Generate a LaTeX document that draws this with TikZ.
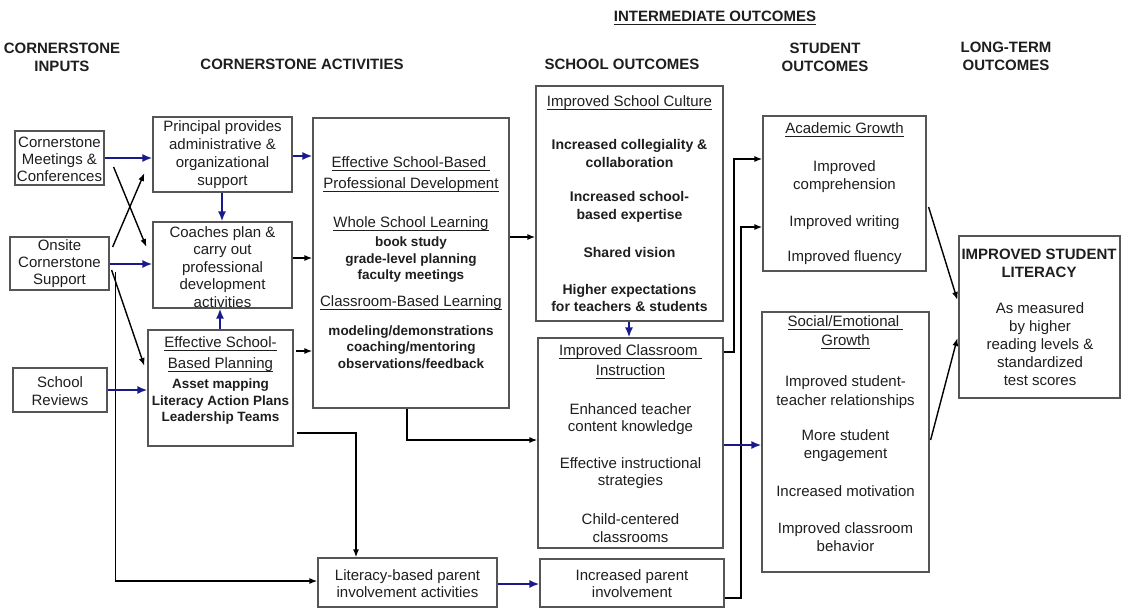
\documentclass[tikz,border=0pt]{standalone}
\usepackage{fontspec}
\setmainfont{Liberation Sans}
\usetikzlibrary{arrows.meta,calc}
\definecolor{bord}{RGB}{85,85,85}
\definecolor{navy}{RGB}{25,25,140}
\definecolor{ink}{RGB}{30,30,30}
\newsavebox{\myulbox}
\newcommand\ulx[1]{\sbox\myulbox{#1}\leavevmode\rlap{\rule[-3.2pt]{\wd\myulbox}{1pt}}\usebox\myulbox}
\tikzset{
  box/.style={draw=bord, line width=1.2pt, inner sep=0pt, fill=white},
  txt/.style={font=\fontsize{15}{#1}\selectfont, align=center, inner sep=0pt, text=ink},
  txt/.default=17,
  lst/.style={font=\bfseries\fontsize{13.5}{#1}\selectfont, align=center, inner sep=0pt, text=ink},
  lst/.default=16.5,
  bld/.style={font=\bfseries\fontsize{14}{#1}\selectfont, align=center, inner sep=0pt, text=ink},
  bld/.default=18,
  hdr/.style={font=\bfseries\fontsize{15}{#1}\selectfont, align=center, inner sep=0pt, text=ink},
  hdr/.default=18,
  blk/.style={draw=black, line width=1.4pt, -{Latex[length=8pt,width=6pt]}},
  blu/.style={draw=navy, line width=1.8pt, -{Latex[length=10pt,width=8pt]}},
}
\newcommand\bx[5]{\node[box, minimum width={#4-#2}, minimum height={#5-#3}] (#1) at ({(#2+#4)/2},{(#3+#5)/2}) {};}
\begin{document}
\begin{tikzpicture}[x=1pt,y=-1pt]
\useasboundingbox (0,0) rectangle (1121,610);
\fill[white] (0,0) rectangle (1121,610);
% headers
\node[hdr] (hIn) at (62,57) {CORNERSTONE\\INPUTS};
\node[hdr] (hAct) at (302,64) {CORNERSTONE ACTIVITIES};
\node[hdr] (hSch) at (622,64) {SCHOOL OUTCOMES};
\node[hdr] (hInt) at (715,18) {\ulx{INTERMEDIATE OUTCOMES}};
\node[hdr] (hStu) at (825,57) {STUDENT\\OUTCOMES};
\node[hdr] (hLong) at (1006,56) {LONG-TERM\\OUTCOMES};
% boxes
\bx{meet}{15}{131}{104}{185}
\bx{onsite}{10}{237}{109}{290}
\bx{rev}{13}{368}{107}{412}
\bx{prin}{153}{117}{292}{192}
\bx{coach}{153}{222}{292}{308}
\bx{plan}{148}{330}{293}{446}
\bx{pd}{313}{118}{509}{408}
\bx{lit}{318}{558}{497}{607}
\bx{sc}{536}{86}{723}{321}
\bx{ci}{538}{338}{723}{548}
\bx{pi}{540}{559}{724}{607}
\bx{ag}{763}{116}{926}{271}
\bx{se}{762}{312}{929}{572}
\bx{isl}{959}{236}{1120}{398}
% texts
\node[txt] (tMeet) at (59.5,159) {Cornerstone\\Meetings \&\\Conferences};
\node[txt] (tOn) at (59.5,264) {Onsite\\Cornerstone\\Support};
\node[txt=18] (tRev) at (60,391) {School\\Reviews};
\node[txt=18] (tPrin) at (222.5,155) {Principal provides\\administrative \&\\organizational\\support};
\node[txt=17.5] (tCoach) at (222.5,267) {Coaches plan \&\\carry out\\professional\\development\\activities};
\node[txt=21] (tPlanH) at (220.5,354.5) {\ulx{Effective School-}\\\ulx{Based Planning}};
\node[lst] (tPlanL) at (220.5,402) {Asset mapping\\Literacy Action Plans\\Leadership Teams};
\node[txt=21] (tPD1) at (411,174.5) {\ulx{Effective School-Based\ }\\\ulx{Professional Development}};
\node[txt] (tPD2) at (411,224) {\ulx{Whole School Learning}};
\node[lst] (tPD3) at (411,260) {book study\\grade-level planning\\faculty meetings};
\node[txt] (tPD4) at (411,303) {\ulx{Classroom-Based Learning}};
\node[lst] (tPD5) at (411,347) {modeling/demonstrations\\coaching/mentoring\\observations/feedback};
\node[txt] (tSC0) at (629.5,103) {\ulx{Improved School Culture}};
\node[bld] (tSC1) at (629.5,153) {Increased collegiality \&\\collaboration};
\node[bld=18.5] (tSC2) at (629.5,207) {Increased school-\\based expertise};
\node[bld] (tSC3) at (629.5,252) {Shared vision};
\node[bld=17] (tSC4) at (629.5,297.5) {Higher expectations\\for teachers \& students};
\node[txt=20] (tCI0) at (630.5,362) {\ulx{Improved Classroom\ }\\\ulx{Instruction}};
\node[txt] (tCI1) at (630.5,419.5) {Enhanced teacher\\content knowledge};
\node[txt] (tCI2) at (630.5,473.5) {Effective instructional\\strategies};
\node[txt=18] (tCI3) at (630.5,528) {Child-centered\\classrooms};
\node[txt] (tLit) at (407.5,583.5) {Literacy-based parent\\involvement activities};
\node[txt] (tPI) at (632,583.5) {Increased parent\\involvement};
\node[txt] (tAG0) at (844.5,130) {\ulx{Academic Growth}};
\node[txt=18] (tAG1) at (844.5,177) {Improved\\comprehension};
\node[txt] (tAG2) at (844.5,223) {Improved writing};
\node[txt] (tAG3) at (844.5,258) {Improved fluency};
\node[txt=19] (tSE0) at (845.5,332.5) {\ulx{Social/Emotional\ }\\\ulx{Growth}};
\node[txt=19] (tSE1) at (845.5,392.5) {Improved student-\\teacher relationships};
\node[txt=18] (tSE2) at (845.5,446) {More student\\engagement};
\node[txt] (tSE3) at (845.5,491) {Increased motivation};
\node[txt=18] (tSE4) at (845.5,537) {Improved classroom\\behavior};
\node[hdr] (tIS0) at (1039,263) {IMPROVED STUDENT\\LITERACY};
\node[txt=18] (tIS1) at (1040,344) {As measured\\by higher\\reading levels \&\\standardized\\test scores};
% connectors
\draw[blu] (meet.east |- 0,158) -- (prin.west |- 0,158);
\draw[blk] ($(meet.east |- 0,167)+(9,0)$) -- ($(coach.west |- 0,247)+(-6,0)$);
\draw[blk] ($(onsite.east |- 0,247)+(3,0)$) -- ($(prin.west |- 0,173)+(-8,0)$);
\draw[blu] (onsite.east |- 0,264) -- (coach.west |- 0,264);
\draw[blk] ($(onsite.east |- 0,270)+(2,0)$) -- ($(plan.west |- 0,366)+(-3,0)$);
\draw[blk] ($(onsite.east |- 0,272)+(6,0)$) |- (lit.west |- 0,581);
\draw[blu] (rev.east |- 0,390) -- (plan.west |- 0,390);
\draw[blu] (plan.north -| 220,0) -- (coach.south -| 220,0);
\draw[blu] (prin.south -| 222,0) -- (coach.north -| 222,0);
\draw[blu] (prin.east |- 0,156) -- (pd.west |- 0,156);
\draw[blk] (coach.east |- 0,258) -- (pd.west |- 0,258);
\draw[blk] ($(plan.east |- 0,351)+(2,0)$) -- (pd.west |- 0,351);
\draw[blk] ($(plan.east |- 0,433)+(3,0)$) -| (lit.north -| 356,0);
\draw[blk] (pd.south -| 407,0) |- (ci.west |- 0,440);
\draw[blk] (pd.east |- 0,237) -- (sc.west |- 0,237);
\draw[blu] (sc.south -| 629,0) -- (ci.north -| 629,0);
\draw[blu] (lit.east |- 0,584) -- (pi.west |- 0,584);
\coordinate (j1) at (734,159);
\coordinate (j2) at (741,227);
\draw[blk] (ci.east |- 0,352) -| (j1) -- (ag.west |- j1);
\draw[blk] (pi.east |- 0,598) -| (j2) -- (ag.west |- j2);
\draw[blu] (ci.east |- 0,445) -- (se.west |- 0,445);
\draw[blk] ($(ag.east |- 0,207)+(2,0)$) -- ($(isl.west |- 0,300)+(-1,0)$);
\draw[blk] ($(se.east |- 0,440)+(1,0)$) -- ($(isl.west |- 0,338)+(-1,0)$);
\end{tikzpicture}
\end{document}
